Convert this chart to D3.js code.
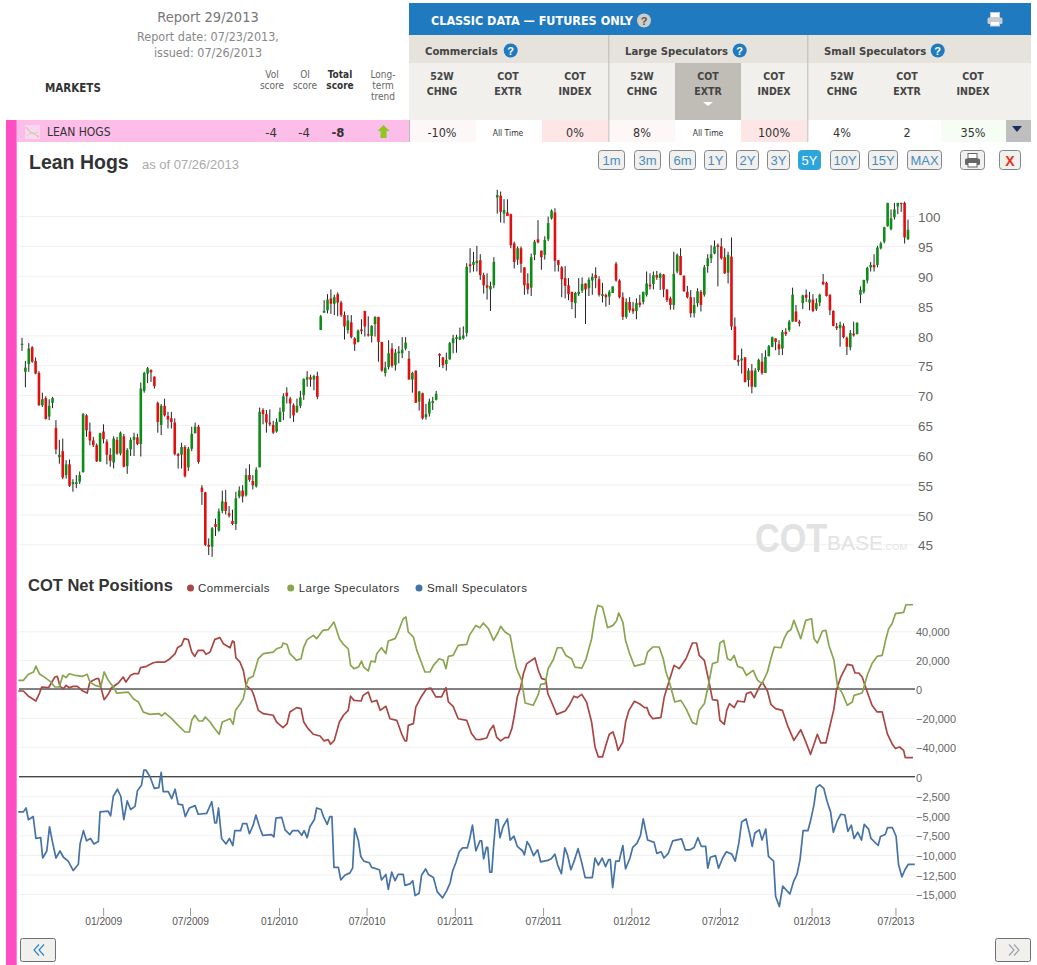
<!DOCTYPE html>
<html>
<head>
<meta charset="utf-8">
<title>Lean Hogs</title>
<script src="https://cdn.jsdelivr.net/npm/d3@7"></script>
<style>
  html, body { margin: 0; padding: 0; background: #fff; }
  svg { display: block; }
</style>
</head>
<body>
<script>
// weekly candles: open, high, low, close
var candles = [
[78.4,79.6,77.4,78.6],[73.9,75.7,71.3,74.6],[75.2,78.7,73.9,77.8],[78,78.2,75.4,75.6],[75.7,76.3,73.5,73.6],
[73.7,74,68.2,68.3],[68.3,70.4,68,69.3],[69.5,69.8,65.9,66],[66.4,69.3,65.8,68.2],[68.7,69.7,67.8,69.5],
[64.5,65.8,60.1,60.9],[59.6,62.5,58.5,60],[60.6,62.7,55.9,56.2],[56.6,59.1,56,58.4],[58.4,59.2,54.6,54.8],
[55.1,55.9,53.8,55.4],[55.1,56.6,54.4,55.4],[55.5,57.2,55.1,56.6],[57.1,67,57,66.8],[66.6,66.8,63,64.1],
[63.9,65.4,61.6,62.4],[62.4,63,61.3,61.6],[61.6,61.9,58.8,58.9],[58.9,63.7,58.8,63.6],[63.9,65.1,61.9,62.6],
[62.2,62.6,58.4,60],[60,61.1,58,59],[58.7,63.1,57.7,62.7],[62.5,63,60,60.2],[60.2,63.9,59.9,63.7],
[63.1,63.5,57.9,58],[58.1,61.1,56.8,60.8],[60.9,62.9,59.8,62.5],[62.5,63.7,59.8,63],[62.9,63.5,61.6,61.8],
[61.8,72.1,59.7,71.1],[70.7,73.9,70.4,73.7],[73.6,74.7,72,74.5],[74.2,74.3,72.2,73.8],[73.1,73.1,71.1,71.5],
[68.7,68.9,63.7,65.5],[65,68.5,63.3,68.2],[68.2,69.4,66.4,66.6],[66.5,67.2,64.4,65.9],[66.1,67.2,64.4,65.5],
[65.4,66.1,59.9,60.1],[60.1,60.3,57.7,59.8],[60,62,57.7,61.3],[61.3,61.6,56.2,56.4],[57.9,61.3,57.3,61],
[61,64.7,60.6,63.5],[63.6,65.4,63.6,64.7],[64.7,65,58.5,58.8],[54.5,54.9,51.6,53.8],[53.7,53.8,44.7,44.9],
[44.9,46,43.2,44.6],[44.6,47.9,42.9,47.7],[48.4,49.3,46.4,47.9],[47.3,51,47.1,50.5],[50.6,54,50.2,52.2],
[52.1,54.1,50,50.6],[50.2,51.4,49.5,49.8],[48.9,50.8,48.2,48.4],[48.4,53.8,47.4,52.7],[53,54.7,52.7,54],
[54,54.9,52,53],[53.2,57.7,53,56.6],[56.6,58.4,55.5,55.8],[55.6,56.6,54.2,54.9],[54.7,57.9,54.5,57.5],
[57.9,67.9,57.9,67.2],[67.5,67.8,65.1,66.8],[66.8,67.5,63.7,65.4],[65.4,67.6,64.8,65.1],[65,65.7,63.5,63.7],
[63.9,66.1,63.7,65.5],[65.5,67.9,65.5,67.2],[67.2,70.3,65.8,69.8],[70.4,71.3,68.6,69.8],[69.4,69.7,66.1,68.6],
[68.3,68.6,65.5,66.6],[67.2,69.4,67,68.2],[68.2,70.7,67.8,69.6],[70,72.8,69.2,72.7],[72.6,74,71.4,73],
[73,73.4,71.4,72.6],[72.6,73.4,70.8,73.2],[73.2,73.9,69.3,69.7],[80.9,83.4,80.9,83.2],[83.8,85.9,83.8,84.1],
[84.2,86.9,83.7,86],[86.2,87.7,83.6,85.3],[85.3,86.8,83.4,86.4],[86.9,87.2,83.2,85.5],[85.5,85.8,83.1,83.4],
[83.4,84,79.3,81.5],[80.9,83.4,80.3,82.5],[82.2,83.4,79.5,79.7],[79.5,79.7,77.4,78.5],[78.9,81,78.8,80.8],
[81,82.7,80.2,80.7],[84.1,84.1,79.8,81.5],[80.2,83.2,79.8,80],[79.9,81.7,78.8,81.6],[81.9,83.2,79.8,83.1],
[83.1,83.1,75.6,78.9],[78.9,78.9,73.9,74.1],[73.7,75.6,73.1,74.6],[74.7,79.2,74.3,77],[77.8,78.7,74.6,74.9],
[75,77.7,74.1,77.1],[77,78.2,75.3,77.3],[77,79.7,76.2,77.6],[77.8,79.7,77.5,78.8],[76.1,77.4,72.6,72.6],
[72.6,73.9,70.4,73.7],[74.1,74.1,68.7,68.7],[68.9,70.7,67.4,70.6],[70.3,70.4,65.9,66.1],[66.3,68.5,65.9,66.8],
[66.9,69.4,66.4,68.9],[68.7,69.7,67.5,69],[69.2,70.7,69.1,70.2],[76.9,77,74.7,76.6],[76.3,76.4,74.5,75],
[75.2,77.1,74.1,75.9],[76,78.9,75.9,78.7],[78.7,80.1,77,79.5],[79.4,80.1,77.1,79.7],[79.3,81.3,79.2,79.8],
[79.5,81.5,79.3,80],[80.4,92.1,79.8,91.5],[91.9,94.6,90.5,91.6],[91.8,94,90.7,92.3],[92.1,95,90.7,92.5],
[92.6,93.6,89.3,90.1],[90.1,90.5,87,88.4],[88.4,90.4,86,88],[87.7,89,84.1,88.3],[88.4,93.1,87.9,92.3],
[103.1,104.4,100.4,103.5],[103.4,104.1,98.9,100.7],[100.4,102.8,98.8,101],[100.6,102.8,100,100],[100.3,100.4,94.6,95.1],
[95.4,95.7,91.2,92.3],[92.7,94.9,91.8,94.6],[94.6,94.9,90.5,92],[91.4,91.4,86.8,88.4],[88.7,90.4,86.9,87.7],
[88,93.7,86.6,93.1],[93.5,96,92.6,95.7],[96.1,99.3,95.4,95.6],[94.2,94.2,91,93.1],[93.5,96.6,92.7,96],
[96.1,99.9,95.8,98.8],[99.6,101.1,99.4,100.9],[100.6,101.3,90.7,92.5],[92.6,92.6,90.7,91.8],[91.4,91.6,86.4,89.4],
[89.6,91.6,86.2,88.3],[88.4,89.6,85.9,86.9],[87.3,87.3,84.4,85.6],[85.4,87.3,82.9,87.1],[86.9,89.6,86.6,87.3],
[87.5,89.7,87.1,88.6],[88.7,88.7,81.9,87.7],[87.9,89.7,86.6,89.3],[89.2,90.4,86.8,89.8],[90.1,91.4,87.9,89.6],
[89.4,89.9,86.5,86.8],[86.6,88.8,85.5,86.9],[86.8,87,84.8,86.4],[86.5,87.6,85.1,87.3],[87.1,88.2,87.1,88.2],
[92,92.3,89,89.2],[89.2,89.4,86.2,86.4],[86.4,87.2,82.6,83.1],[83.1,86.2,82.8,85.6],[85.6,86.4,83.8,84.2],
[84.5,85.6,83.6,84],[84.1,86.2,82.7,85.4],[85.5,86.8,84.7,85.1],[85.6,87.3,85.2,87.3],[86.8,90.7,86.5,88.7],
[88.5,90.4,87.7,88.2],[88.6,90.7,87.7,90.1],[90.1,90.8,89.3,89.7],[89.6,90.5,87.6,90.3],[90.2,90.3,86.4,87.7],
[87.7,87.7,85.6,85.9],[86.2,86.5,84.3,85.1],[85.1,94,84.3,90.3],[90.7,93.7,90.4,93.5],[93.3,94.6,90.1,90.1],
[90,90,87.3,87.4],[87.3,88.3,86.2,86.4],[86.4,87.6,83,83.7],[83.7,86.4,83,85.1],[85.4,87.9,84.8,87.4],
[87.3,87.6,84,85.1],[86.8,91.8,86.5,91.4],[91.6,93.6,90.5,92.9],[92.9,95.1,92.1,93.6],[93.7,95.9,93.6,94.9],
[95.1,95.4,88.2,94.8],[94.9,96.3,92.7,92.9],[93.1,94.6,90.3,90.4],[90.5,94,88.7,93.5],[93.2,96.4,80.9,81.5],
[81.5,83,75.9,75.9],[75.9,76.7,74.9,75.6],[75.8,77.8,73.6,76.1],[76.3,76.4,72.1,72.2],[72.5,74.5,71.4,74.1],
[74.1,75.2,70.3,71.4],[71.4,74.5,71.3,74.1],[74.2,76.1,73.9,75.9],[75.6,77,73.4,73.7],[73.7,77.5,73.7,76.4],
[76.5,78.4,76.5,78.2],[78.1,79.8,78,79.7],[79.5,79.5,77.5,78.9],[78.5,79.2,76.7,77.7],[77.8,80.9,76.7,80.6],
[80.6,81.2,79.9,80.2],[80.9,82.6,80.6,82.3],[82.3,88,82.3,86.8],[84,85.1,82.3,82.3],[82.3,82.6,81.5,82],
[85.4,86.8,84.4,86.7],[86.8,87.7,85.6,86.3],[85.5,87.3,84.2,86],[86,86.9,83.9,84.1],[84.4,86.2,84.1,85.4],
[85.5,87,84.9,86.8],[89,90.3,88.4,88.6],[88.8,89,86.5,86.6],[86.8,86.9,83.4,84.2],[84.1,84.2,81.5,81.6],
[81.5,82.1,80.9,81.2],[81.2,82.3,78.1,81.8],[81.6,82,79.5,79.7],[79.6,79.8,76.7,78.1],[78,80.9,77.5,80.4],
[80.3,82.3,79.8,80],[80.2,82.2,80.2,82.1],[86.8,88.2,85.4,87.6],[87.3,89.3,87,89.3],[89.2,91.5,88.7,91.3],
[91.4,92.3,90.7,91.8],[91.8,93.6,90.7,91.4],[91.8,95,91.4,94.7],[94.6,95.7,94.4,95.4],[95.7,98.2,95.4,98.1],
[98.3,102.2,98.2,102.2],[97.8,101.1,97.6,99.6],[99.8,102.2,99.4,101.1],[101.6,102.2,100.3,102.2],[102.2,102.2,100.7,102.1],
[102.2,102.4,95.4,96.4],[96.1,99.4,96,97.7]
];

var priceTicks = [45, 50, 55, 60, 65, 70, 75, 80, 85, 90, 95, 100];

// net positions in thousands of contracts: [week, value]
var commercials = [
[-1.1,-1.4],[0.4,-1.4],[1.9,-5],[4.1,-8.3],[5.1,-3.2],[5.8,1.4],[7.8,0.9],[9.7,8.3],[10.4,8.8],[11.2,1.8],[12.2,0.2],[13,2.5],[13.9,0.9],[15.1,1.8],[16.3,1.8],[17.9,-1.4],[19.2,-2.8],[20,4.8],[22,7.2],[22.6,7.2],[23.2,1.4],[24.2,-7.4],[25.4,-3.7],[26.4,0.9],[28.4,4.2],[29.8,8.3],[30.6,4.8],[32,9.5],[33,10.6],[34.3,10.6],[34.9,14.8],[36.7,15.7],[38.5,18],[39.7,18.7],[42.1,18.7],[43.6,21],[45.1,24.5],[45.8,28.6],[47,30.3],[47.8,34.9],[49,34.2],[50,25.6],[50.9,22.6],[51.9,26.8],[53.4,26.8],[54.2,24],[55.4,25.6],[56.8,34.4],[58.3,35.6],[59.3,31.4],[61.3,28.6],[62,33.3],[62.5,32.6],[63,21.7],[64.2,18.7],[65.2,12.9],[66,2.5],[67.7,-0.9],[68.3,-4.4],[69.6,-14.8],[71.1,-17.1],[74,-18.2],[75,-22.9],[76.9,-26.8],[78.1,-24],[78.9,-15.9],[80.9,-12.9],[82.2,-13.6],[83,-22.9],[84.3,-27.5],[85.8,-31.4],[87.8,-32.6],[89,-36],[90.2,-35.1],[90.9,-38.3],[92,-35.6],[93.5,-22.9],[94.7,-18.2],[96.1,-14.8],[96.8,-5],[97.8,-7.9],[99.9,-8.3],[100.5,-4.4],[102,-2.1],[103,-9],[104.5,-7.9],[105.5,-14.8],[107.2,-12],[108.4,-20.6],[110.4,-21.7],[111.8,-30.9],[112.8,-36],[113.3,-36],[113.8,-25.2],[115.3,-24],[116,-12.5],[117.7,-5],[119.2,0.2],[120.4,0.7],[121.9,-5.5],[123.6,-5.5],[124.9,0.9],[125.6,-9],[127,-12],[128.5,-20.6],[131,-21.7],[132.4,-30.9],[133.7,-34.9],[134.9,-35.1],
[136.9,-34],[137.9,-28.2],[138.9,-25.2],[139.8,-33.3],[141,-36],[142.3,-33.7],[143.3,-33.7],[144.3,-27.5],[145,-18.9],[145.9,-5.5],[146.9,1.4],[147.7,10.6],[148.7,17.6],[151.1,21.5],[152.1,12.9],[153.1,7.2],[154.3,6.5],[154.9,-3.2],[156,-9],[157.5,-17.6],[160,-15.2],[161.2,-11.3],[162.6,-5],[163.6,-6],[164.9,-3.7],[166.3,-9],[167.8,-22.9],[168.8,-40.2],[169.8,-47.1],[171,-47.1],[172,-39],[173,-31.4],[174.1,-29.8],[174.9,-35.6],[175.6,-42.5],[177,-36.7],[177.8,-22.9],[178.8,-14.8],[180.4,-8.5],[181.9,-10.2],[183.4,-12.9],[184.1,-12.9],[184.8,-17.6],[185.8,-20.6],[188.2,-19.9],[189.2,-5.5],[190.7,6],[192.1,16.4],[193.6,14.1],[195.6,21],[197.5,31.9],[198.7,31.9],[199.5,23.3],[201,19.9],[202.4,4.8],[203.4,-7.4],[204.9,-7.9],[205.6,-21.7],[206.9,-24.5],[207.6,-14.8],[208.4,-10.2],[209.8,-12.9],[210.8,-8.3],[212.8,-9],[213.4,-3.2],[214.7,-2.1],[215.7,-6],[217.2,1.4],[218.1,4.8],[219.6,-1.4],[220.6,-10.6],[222,-13.6],[224,-14.8],[225.5,-25.2],[227.4,-35.6],[229.4,-28.2],[230.9,-36.7],[232.3,-45.3],[234.3,-31.4],[235.3,-37.4],[236.8,-37.4],[237.7,-28.6],[239.2,-13.6],[239.9,-0.9],[241.2,8.3],[243.1,17.1],[244.6,16.4],[245.4,11.1],[246.5,11.1],[247.5,8.3],[249,-2.1],[250.4,-11.3],[251.9,-15.9],[253.4,-15.9],[254.9,-30.9],[256.3,-37.9],[257.3,-41.3],[258.5,-40.2],[259.7,-42.5],[260.2,-47.6],[262.5,-47.6]
];

var largeSpecs = [
[-1.1,6],[0.4,6],[1.9,10.2],[3.4,11.8],[4.1,15.9],[5.1,10.6],[6.8,7.9],[8.2,5.5],[9.7,1.4],[11,1.4],[12,9.5],[13,7.9],[13.9,10.6],[15.6,9.5],[17.9,8.8],[19.2,10.2],[20,4.8],[21.5,2.5],[23.2,1.4],[24.2,11.8],[25.4,6],[26.9,1.4],[27.9,-2.8],[31.3,-2.1],[32.8,-6.7],[34.3,-9],[35.7,-15.9],[37.7,-17.6],[40.4,-17.1],[41.1,-18.7],[42.1,-16.6],[44.1,-20.6],[46,-25.2],[48,-29.8],[49.3,-29.8],[50,-21.7],[50.9,-18.2],[52.1,-22.2],[53.2,-22.2],[54,-19.4],[55.4,-22.9],[56.8,-27.5],[58.1,-31.4],[59,-22.9],[61.3,-20.6],[62.2,-24.5],[62.9,-14.8],[64.2,-10.6],[65.2,-6.7],[66,2.5],[66.7,7.2],[68.1,8.8],[69.6,21],[71.1,24.5],[74,25.6],[75,27.9],[76.5,29.1],[76.9,31.9],[78.1,30.9],[78.9,24.5],[80.9,19.9],[82.2,21],[83,29.1],[84,34.2],[85.8,37.2],[86.8,34.9],[88.6,40.6],[90.2,41.1],[91.9,46.4],[93.5,34.9],[94.7,30.9],[96.1,27.9],[96.8,16.4],[97.8,14.1],[99.1,15.2],[100,19.4],[100.7,15.2],[102,12.5],[102.8,19.4],[104,18.7],[104.5,24.5],[105.9,28.6],[107.2,24.5],[107.9,33.3],[109.9,34.9],[110.8,39.5],[112.3,48.7],[113.1,49.9],[113.8,39.5],[115.3,36],[116.3,26.8],[117.4,19.9],[118.7,11.8],[120.2,11.8],[121.2,16.4],[122.9,21],[124.1,19.9],[124.9,14.1],[125.6,22.6],[127,23.3],[128.5,30.3],[131,30.9],[131.8,37.2],[133.7,44.1],[134.9,42.5],
[135.9,45.7],[137.4,41.8],[138.9,33.7],[140.3,39.5],[141,43.4],[142.3,39.5],[143.8,37.2],[144.6,26.8],[145.7,14.1],[147.2,6],[148.2,-9.7],[150.6,-11.3],[152.1,-3.7],[152.8,3.2],[154.1,3.7],[155,14.1],[156.5,20.3],[157.7,28.6],[159,28.6],[160.2,23.3],[161.9,21],[162.9,15.2],[164.9,14.5],[166.1,20.3],[167.8,34.9],[168.8,49.9],[169.6,58],[171,56.8],[172.5,42.5],[174.1,44.1],[175.1,47.1],[175.8,52.7],[177,46.4],[177.8,33.7],[179,24.5],[180.4,15.9],[183.4,17.6],[184.3,25.6],[185.8,29.1],[187.7,29.1],[188.9,21],[189.7,11.8],[190.7,4.8],[192.3,-9],[194.1,-7.9],[195.6,-13.6],[197.5,-23.3],[198.7,-24.5],[199.5,-14.8],[201,-10.2],[202.1,1.4],[203.4,17.6],[204.9,18.7],[205.6,31.9],[206.7,33.7],[207.8,21],[208.8,19.9],[209.8,23.3],[210.8,15.7],[212.3,14.5],[213.4,9.5],[215.4,12.9],[216.7,6],[218,3.7],[219.6,11.8],[220.6,21],[221.6,29.1],[223.6,28.6],[224.5,34.9],[225.5,39.5],[226.5,41.1],[227.4,47.6],[229.4,34.9],[230.9,47.6],[232.6,48.7],[233.3,34.9],[234.3,31.9],[235.8,40.2],[236.8,40.6],[237.7,30.3],[239.2,19.9],[240.2,2.5],[241.7,-3.2],[243.1,-11.3],[244.6,-9],[245.1,-4.4],[247.5,-2.8],[249,9.5],[250.4,17.6],[251.9,22.6],[253.4,23.3],[254.5,34.9],[255.3,41.8],[256.3,45.3],[257.3,52.2],[259.7,53.1],[260.4,58.4],[262.5,58.4]
];

var smallSpecs = [
[-1.1,-4.5],[0.4,-4.5],[1.2,-4],[1.9,-5.5],[3.3,-5.1],[4.1,-7.9],[5.5,-7.8],[6.1,-10.4],[7.3,-9.5],[8.1,-6.4],[9,-8.4],[10,-10.4],[11.2,-9.5],[12.2,-10.3],[13.6,-10.8],[15.1,-12],[16.6,-11.2],[17.1,-8.6],[18.1,-6.9],[19,-8.2],[20.2,-7.9],[21.2,-8.6],[22.5,-8.3],[23,-4.5],[25.4,-4.4],[26.1,-5],[26.9,-2.5],[28.1,-1.6],[29.1,-2.5],[30,-5.5],[31,-3.1],[32,-4.2],[33.3,-3.8],[34,-1.8],[35.2,-1.1],[35.9,0.85],[36.5,0.85],[37.7,0],[39,-1.5],[40.3,-1.4],[41,0.55],[41.6,-1.9],[43.1,-1.9],[44.1,-2.8],[45.1,-1.6],[46,-3.5],[47.3,-3.6],[48.1,-5.1],[49.3,-4],[51,-3.7],[51.9,-4.8],[54.4,-4.7],[55.9,-3.2],[56.8,-5.9],[57.3,-5.9],[57.9,-4],[58.8,-7.9],[60.1,-8.6],[61.1,-7.9],[62.1,-8.8],[62.7,-6.9],[64.4,-6.9],[65,-6],[66.2,-6],[67,-7.3],[68.1,-6.2],[68.9,-4.9],[70.1,-6.6],[70.9,-7.5],[73.5,-7.4],[74.2,-7.7],[74.8,-5.3],[76.5,-5.2],[77.5,-6.8],[78.9,-7.4],[79.7,-6.9],[81.4,-6.9],[82.4,-7.5],[83.1,-6.9],[84,-7.8],[84.8,-6.4],[86.1,-5.5],[86.8,-4],[88.1,-4.2],[88.8,-5.1],[89.9,-6.1],[90.7,-5.1],[91.3,-5.1],[91.9,-11.6],[93.2,-11.6],[93.9,-13.2],[95.1,-12.6],[96.6,-12.3],[97.4,-11.7],[98,-6.6],[99.1,-8.2],[99.8,-10.2],[100.7,-10.8],[102.3,-11],[103,-11.6],[105.3,-11.9],[105.9,-13.2],[107.2,-12.5],[107.9,-14.4],[108.9,-12.2],[109.9,-13.3],[110.8,-12.5],[112.3,-12.5],[112.8,-13.9],[114.3,-13.7],[115.1,-13.3],[115.8,-15.2],[117,-14.9],[117.7,-12.6],[118.9,-11.8],[119.7,-12.5],[121.2,-12.9],[122.3,-14.7],[123.9,-15.5],[125.1,-14.6],[126.1,-13.6],[126.9,-12],[127.8,-11],[128.8,-9.6],[129.8,-9.1],[131.2,-9.1],[131.9,-7.9],[132.7,-6.2],[133.7,-9.5],[134.9,-8.2],
[135.4,-8.2],[136,-10.5],[136.8,-9.05],[137.2,-9.05],[137.8,-12.2],[138.4,-12.2],[138.9,-9.05],[139.6,-5.5],[140.2,-5.5],[140.8,-7.8],[141.7,-6.4],[143,-5.4],[143.8,-8.1],[144.9,-7.6],[145.9,-8.9],[147.5,-9.5],[148,-10],[148.8,-8.3],[149.6,-8.9],[150.7,-10.1],[151.9,-9.35],[152.8,-10.9],[153.8,-10.8],[154.9,-10.7],[155.9,-10.5],[157,-9.9],[157.8,-11.3],[158.9,-12.4],[159.9,-9.1],[160.7,-10],[161.7,-11.9],[162.8,-10.6],[163.8,-9.2],[164.9,-11],[165.9,-12.9],[168,-12.9],[168.8,-10.4],[169.8,-11.3],[170.9,-10.4],[171.9,-11.5],[172.8,-10.6],[173.3,-10.6],[174,-14.2],[174.9,-10.8],[175.9,-10.8],[177,-8.8],[177.8,-11.8],[179.1,-10.4],[179.9,-9.05],[181.2,-8.5],[182.2,-7.5],[183,-5.4],[184.3,-8.1],[186.2,-8.4],[187,-9.8],[188.3,-9.6],[189.1,-10.4],[190.4,-9.8],[191.7,-8.2],[194.3,-7.95],[195.4,-9.35],[196.8,-9.35],[198,-9.05],[199.1,-7.8],[200.1,-8.9],[201.4,-8.9],[202,-11.7],[202.8,-10.3],[204.3,-10.1],[205.2,-11.7],[206.4,-10.4],[207.5,-9.6],[209.1,-9.9],[210.1,-10.8],[211.2,-8.4],[212,-5.8],[213.3,-5.4],[214.3,-7.2],[215.1,-8.9],[215.9,-7.2],[217.2,-6.8],[218,-8.1],[219.1,-6.7],[219.9,-10.2],[221.4,-10.8],[222,-15.3],[223.1,-16.6],[224.1,-14],[226.2,-15],[227.3,-13.4],[228.3,-12.5],[229.2,-10.6],[230.1,-6.9],[231.5,-6.9],[232.2,-5.8],[233.3,-3.6],[234,-1.4],[235,-1.05],[236.2,-1.5],[237.2,-3.2],[238.2,-4.5],[239,-7.1],[240.1,-5.7],[241.2,-4.8],[242.4,-4.9],[243.3,-7],[244.3,-6.2],[245.1,-7.9],[246.2,-7.1],[247.3,-8.1],[248.1,-6.1],[249.4,-6.7],[250.1,-7.9],[252.2,-8.8],[252.9,-7.65],[254.3,-7.4],[255,-6.5],[256.4,-6.5],[257.5,-7.65],[258.2,-11.2],[259.2,-12.8],[260.1,-11.9],[261.1,-11.2],[263,-11.2]
];

var netTicks = [-40, -20, 0, 20, 40];
var smallTicks = [-15, -12.5, -10, -7.5, -5, -2.5, 0];
var weekTicks = [23.9, 49.5, 75.7, 101.5, 127.5, 153.5, 179.5, 205.6, 232.6, 257.3];
var weekLabels = ["01/2009", "07/2009", "01/2010", "07/2010", "01/2011", "07/2011", "01/2012", "07/2012", "01/2013", "07/2013"];
var legendNames = ["Commercials", "Large Speculators", "Small Speculators"];
var rangeButtons = ["1m", "3m", "6m", "1Y", "2Y", "3Y", "5Y", "10Y", "15Y", "MAX"];
var columnHeads = [["52W", "CHNG"], ["COT", "EXTR"], ["COT", "INDEX"]];
var groupNames = ["Commercials", "Large Speculators", "Small Speculators"];
var rowValues = ["-10%", "All Time", "0%", "8%", "All Time", "100%", "4%", "2", "35%"];

var W = 1037, H = 965;
var SANS = "'Liberation Sans', Arial, sans-serif";
var TAHOMA = "'DejaVu Sans Condensed', 'DejaVu Sans', sans-serif";
var RED = "#aa4643", GREEN = "#89a54e", BLUE = "#4572a7";

var svg = d3.select("body").append("svg").attr("width", W).attr("height", H);

function rect(x, y, w, h, fill) {
  return svg.append("rect").attr("x", x).attr("y", y).attr("width", w).attr("height", h).attr("fill", fill);
}
function label(x, y, str, size, color, anchor, weight, family) {
  return svg.append("text").attr("x", x).attr("y", y).text(str)
    .attr("font-size", size).attr("fill", color)
    .attr("text-anchor", anchor || "start")
    .attr("font-weight", weight || "normal")
    .attr("font-family", family || TAHOMA);
}
function helpIcon(cx, cy, fill, color) {
  svg.append("circle").attr("cx", cx).attr("cy", cy).attr("r", 7).attr("fill", fill);
  label(cx, cy + 4, "?", 11, color, "middle", "bold", SANS);
}
function printer(cx, cy, color) {
  var g = svg.append("g").attr("transform", "translate(" + cx + "," + cy + ")");
  g.append("rect").attr("x", -4.5).attr("y", -7).attr("width", 9).attr("height", 5).attr("fill", "#fff").attr("stroke", color);
  g.append("rect").attr("x", -7.5).attr("y", -2).attr("width", 15).attr("height", 6.5).attr("rx", 1.5).attr("fill", color);
  g.append("rect").attr("x", -4.5).attr("y", 2).attr("width", 9).attr("height", 4.5).attr("fill", "#fff").attr("stroke", color);
}

/* page chrome */
rect(6, 120, 10.7, H - 120, "#ff4dc4");
label(208, 22, "Report 29/2013", 14.5, "#777", "middle");
label(208, 41, "Report date: 07/23/2013,", 12.5, "#888", "middle");
label(208, 57, "issued: 07/26/2013", 12.5, "#888", "middle");
label(45, 92, "MARKETS", 11.5, "#333", "start", "bold");
label(272, 78, "Vol", 10, "#666", "middle");
label(272, 89, "score", 10, "#666", "middle");
label(305, 78, "OI", 10, "#666", "middle");
label(305, 89, "score", 10, "#666", "middle");
label(340, 78, "Total", 10, "#333", "middle", "bold");
label(340, 89, "score", 10, "#333", "middle", "bold");
label(383, 78, "Long-", 10, "#666", "middle");
label(383, 89, "term", 10, "#666", "middle");
label(383, 100, "trend", 10, "#666", "middle");

rect(409, 3, 622, 32, "#1f7ac0");
label(431, 25, "CLASSIC DATA — FUTURES ONLY", 12.5, "#fff", "start", "bold");
helpIcon(644, 20.5, "#cfcdc8", "#555");
printer(995, 19.5, "#c8ccd2");
rect(409, 35, 622, 28, "#e6e3dc");
rect(409, 63, 622, 57, "#f1f0ec");

var columnX = [442, 508, 575, 642, 708, 774, 842, 907, 973];
rect(675, 63, 66, 57, "#c0bdb6");
columnX.forEach(function(x, i) {
  var head = columnHeads[i % 3];
  label(x, 80, head[0], 10.5, "#444", "middle", "bold");
  label(x, 95, head[1], 10.5, "#444", "middle", "bold");
});
svg.append("path").attr("d", "M703 102h10l-5 4z").attr("fill", "#fff");

var groupX = [425, 625, 824], iconX = [510.7, 739.7, 937.7];
groupNames.forEach(function(name, i) {
  label(groupX[i], 55, name, 11.2, "#444", "start", "bold");
  helpIcon(iconX[i], 50.5, "#1f7ac0", "#fff");
});

/* market row */
rect(17, 120, 392, 22, "#fcbde9");
rect(409, 120, 622, 22, "#fff");
rect(410, 120, 66, 22, "#fef7f7");
rect(542, 120, 66, 22, "#fee6e6");
rect(609, 120, 66, 22, "#fef7f7");
rect(741, 120, 66, 22, "#fee6e6");
rect(941, 120, 65, 22, "#f5fdf4");
rect(1006, 120, 25, 22, "#bfbfbf");
svg.append("path").attr("d", "M1012 126h10l-5 6z").attr("fill", "#14305e");
[[409, 120, 142], [608.3, 35, 142], [807.3, 35, 142]].forEach(function(s) {
  rect(s[0], s[1], 1, s[2] - s[1], "#bbb");
});
rect(25, 125, 15, 14, "#f8d8ee");
svg.append("path").attr("d", "M26 127l5 6 4 1 4 3").attr("fill", "none").attr("stroke", "#e9a8a8");
svg.append("path").attr("d", "M26 136l5-3 4 0 4-1").attr("fill", "none").attr("stroke", "#c8dcb8");
label(47, 136, "LEAN HOGS", 12, "#333");
label(271, 137, "-4", 13, "#333", "middle");
label(304, 137, "-4", 13, "#333", "middle");
label(338, 137, "-8", 13, "#333", "middle", "bold");
svg.append("path").attr("d", "M383.5 125l6 6h-3v7h-6v-7h-3z").attr("fill", "#8ec81f");
columnX.forEach(function(x, i) {
  var small = rowValues[i] == "All Time";
  label(x, small ? 136 : 137, rowValues[i], small ? 8.5 : 12.5, "#333", "middle");
});

/* title bar */
label(29, 169, "Lean Hogs", 19.5, "#333", "start", "bold", SANS);
label(142, 169, "as of 07/26/2013", 13, "#aaa", "start", "normal", SANS);
var buttonX = [[598, 624], [634, 660], [669, 695], [704, 726], [736, 758], [767, 789], [798, 820], [830, 859], [868, 897], [907, 941]];
rangeButtons.forEach(function(name, i) {
  var on = name == "5Y", b = buttonX[i];
  svg.append("rect").attr("x", b[0] + 0.5).attr("y", 150.5).attr("width", b[1] - b[0]).attr("height", 19).attr("rx", 3)
    .attr("fill", on ? "#2da5dc" : "#f1f0ec").attr("stroke", on ? "#2da5dc" : "#7f8690");
  label((b[0] + b[1]) / 2 + 0.5, 165, name, 13, on ? "#fff" : "#4a8cc0", "middle", "normal", SANS);
});
svg.append("rect").attr("x", 960.5).attr("y", 150.5).attr("width", 24).attr("height", 19).attr("rx", 3).attr("fill", "#f1f0ec").attr("stroke", "#7f8690");
printer(972.5, 160.5, "#666");
svg.append("rect").attr("x", 999.5).attr("y", 150.5).attr("width", 21).attr("height", 19).attr("rx", 3).attr("fill", "#f1f0ec").attr("stroke", "#7f8690");
label(1010, 166, "X", 14, "#e8321a", "middle", "bold", SANS);

/* scales */
var x = d3.scaleLinear().domain([0, 261]).range([22, 908]);
var priceY = d3.scaleLinear().domain([45, 100]).range([544.3, 216]);
var netY = d3.scaleLinear().domain([-40, 40]).range([746.7, 631.3]);
var smallY = d3.scaleLinear().domain([-15, 0]).range([894, 776.7]);
var GRID_L = 19, GRID_R = 915;

function yAxis(scale, ticks, fmt, size) {
  var g = svg.append("g").attr("transform", "translate(" + GRID_R + ",0)")
    .call(d3.axisRight(scale).tickValues(ticks).tickSize(0).tickPadding(size > 12 ? 3 : 1).tickFormat(fmt));
  g.select(".domain").remove();
  g.selectAll("text").attr("font-size", size).attr("fill", "#666").attr("font-family", SANS).attr("dy", ".42em");
  g.selectAll(".tick").append("line").attr("x1", GRID_L - GRID_R).attr("x2", 0).attr("stroke", "#f0f0f0").attr("stroke-width", 1);
  return g;
}

/* candles */
yAxis(priceY, priceTicks, String, 13.5);

var wm = svg.append("g").attr("font-family", SANS).attr("fill", "#e2e2e2");
wm.append("text").attr("x", 755).attr("y", 551.5).text("COT").attr("font-size", 41).attr("font-weight", "bold")
  .attr("textLength", 72).attr("lengthAdjust", "spacingAndGlyphs");
wm.append("text").attr("x", 827).attr("y", 550).text("BASE").attr("font-size", 21);
wm.append("text").attr("x", 883).attr("y", 550).text(".COM").attr("font-size", 9.3);

var candle = svg.append("g").selectAll("g").data(candles).join("g")
  .attr("transform", function(d, i) { return "translate(" + x(i) + ",0)"; });
candle.append("line")
  .attr("y1", function(d) { return priceY(d[1]); })
  .attr("y2", function(d) { return priceY(d[2]); })
  .attr("stroke", "#222").attr("stroke-width", 1);
candle.append("rect")
  .attr("x", -1.3).attr("width", 2.6)
  .attr("y", function(d) { return priceY(Math.max(d[0], d[3])); })
  .attr("height", function(d) { return Math.max(1.2, Math.abs(priceY(d[0]) - priceY(d[3]))); })
  .attr("fill", function(d) { return d[3] >= d[0] ? "#0e8c17" : "#e01010"; });

/* COT net positions */
label(28, 591, "COT Net Positions", 16.5, "#333", "start", "bold", SANS);
var legendDot = [190.5, 290.7, 419], legendText = [198, 298.7, 427], legendColor = [RED, GREEN, BLUE];
legendNames.forEach(function(name, i) {
  svg.append("circle").attr("cx", legendDot[i]).attr("cy", 588).attr("r", 3.5).attr("fill", legendColor[i]);
  label(legendText[i], 592, name, 11.5, "#333", "start", "normal", SANS).attr("letter-spacing", 0.45);
});

yAxis(netY, netTicks, function(d) { return d3.format(",")(d * 1000); }, 11);
yAxis(smallY, smallTicks, function(d) { return d3.format(",")(d * 1000); }, 11);

rect(GRID_L, netY(0) - 0.6, GRID_R - GRID_L, 1.2, "#333");
rect(GRID_L, smallY(0) - 0.6, GRID_R - GRID_L, 1.2, "#333");

function drawLine(data, scale, color) {
  var line = d3.line().x(function(d) { return x(d[0]); }).y(function(d) { return scale(d[1]); });
  svg.append("path").attr("d", line(data)).attr("fill", "none")
    .attr("stroke", color).attr("stroke-width", 1.7).attr("stroke-linejoin", "round");
}
drawLine(commercials, netY, RED);
drawLine(largeSpecs, netY, GREEN);
drawLine(smallSpecs, smallY, BLUE);

/* time axis */
var xa = svg.append("g").attr("transform", "translate(0,908)")
  .call(d3.axisBottom(x).tickValues(weekTicks).tickSize(8).tickPadding(2).tickFormat(function(d, i) { return weekLabels[i]; }));
xa.select(".domain").remove();
xa.selectAll("line").attr("stroke", "#999");
xa.selectAll("text").attr("font-size", 10.2).attr("fill", "#555").attr("font-family", SANS);

/* paging buttons */
[[20, 35, "#2f86c9"], [995, 35, "#9aa4b0"]].forEach(function(b, i) {
  svg.append("rect").attr("x", b[0] + 0.5).attr("y", 938.5).attr("width", b[1]).attr("height", 23).attr("rx", 2)
    .attr("fill", "#f1f0ec").attr("stroke", "#6a7078");
  var cx = b[0] + 17.5, dir = i == 0 ? 1 : -1;
  [-3.5, 1.5].forEach(function(off) {
    svg.append("path")
      .attr("d", "M" + (cx + off + 5 * (dir > 0 ? 1 : 0)) + " 944.5l" + (-5 * dir) + " 5.5l" + (5 * dir) + " 5.5")
      .attr("fill", "none").attr("stroke", b[2]).attr("stroke-width", 1.2);
  });
});
</script>
</body>
</html>
